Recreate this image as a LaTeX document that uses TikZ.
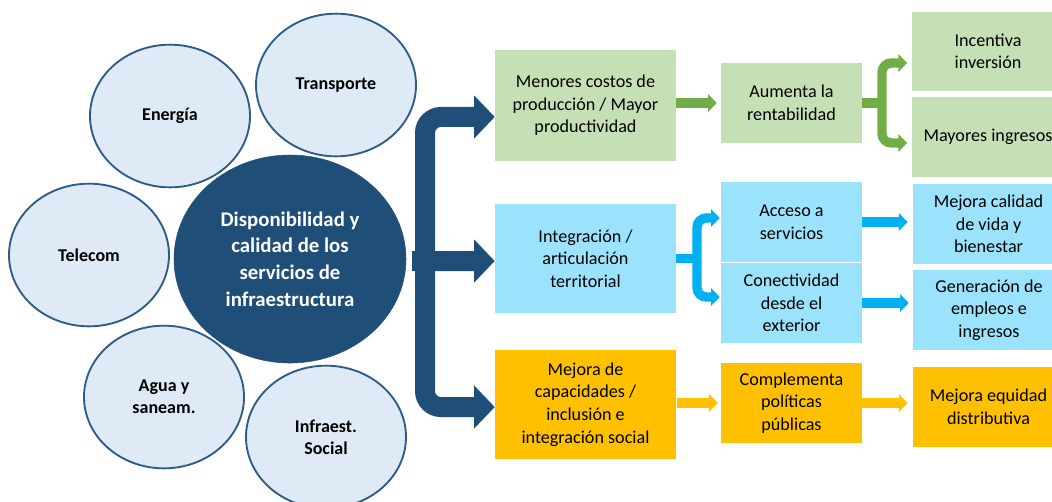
\documentclass[tikz,border=0pt]{standalone}
\usepackage{fontspec}
\setmainfont{Carlito}
\usetikzlibrary{arrows.meta,shapes.geometric,calc}
\definecolor{cfill}{HTML}{DEEBF7}
\definecolor{cborder}{HTML}{2E5B88}
\definecolor{cdark}{HTML}{1F4E79}
\definecolor{boxgreen}{HTML}{C5E0B4}
\definecolor{boxblue}{HTML}{9BE3FC}
\definecolor{boxyellow}{HTML}{FFC000}
\definecolor{agreen}{HTML}{70AD47}
\definecolor{ablue}{HTML}{00B0F0}
\definecolor{ayellow}{HTML}{FFC000}
\begin{document}
\begin{tikzpicture}[x=0.75pt,y=-0.75pt,
  circ/.style={ellipse, draw=cborder, fill=cfill, line width=1.4pt, inner sep=0pt,
    minimum width=120pt, minimum height=107pt, align=center,
    font=\fontsize{13.5}{16.3}\selectfont\bfseries},
  core/.style={ellipse, fill=cdark, draw=cdark, inner sep=0pt, minimum width=174pt, minimum height=156pt,
    align=center, text=white, font=\fontsize{15.6}{20}\selectfont\bfseries},
  bx/.style={rectangle, inner sep=0pt, align=center, font=\fontsize{13.6}{16.9}\selectfont},
  colA/.style={bx, minimum width=135.75pt, minimum height=81.75pt},
  colB/.style={bx, minimum width=105.75pt, minimum height=60pt},
  colC/.style={bx, minimum width=114pt, minimum height=60pt},
  bigarr/.style={draw=cdark, line width=15pt, -{Triangle[length=15.5pt,width=31.5pt]}},
  bigline/.style={draw=cdark, line width=15pt},
  marr/.style={line width=7pt, -{Triangle[length=6.5pt,width=13pt]}},
  mline/.style={line width=7pt},
]
\useasboundingbox (0,0) rectangle (1052,501);
\clip (0,0) rectangle (1052,501);

% satellite circles
\node[circ] (trans) at (336,85) {Transporte};
\node[circ] (ener) at (170,116) {Energía};
\node[circ] (tele) at (89,255) {Telecom};
\node[circ] (agua) at (164,397) {Agua y\\saneam.};
\node[circ] (soc) at (326,437) {Infraest.\\Social};
% central circle
\node[core] (c) at (290,259) {Disponibilidad y\\calidad de los\\servicios de\\infraestructura};

% column 2
\node[colA, fill=boxgreen, minimum height=83.25pt] (g1) at (585.5,105.5) {Menores costos de\\producción / Mayor\\productividad};
\node[colA, fill=boxblue] (b1) at (585.5,258.5) {Integración /\\articulación\\territorial};
\node[colA, fill=boxyellow] (y1) at (585.5,404.5) {Mejora de\\capacidades /\\inclusión e\\integración social};

% column 3
\node[colB, fill=boxgreen] (g2) at (791.5,103) {Aumenta la\\rentabilidad};
\node[colB, fill=boxblue] (b2) at (791.5,222) {Acceso a\\servicios};
\node[colB, fill=boxblue] (b3) at (791.5,303) {Conectividad\\desde el\\exterior};
\node[colB, fill=boxyellow] (y2) at (791.5,403) {Complementa\\políticas\\públicas};

% column 4
\node[colC, fill=boxgreen, minimum height=59.25pt] (g3) at (988,51.5) {Incentiva\\inversión};
\node[colC, fill=boxgreen] (g4) at (988,137) {Mayores ingresos};
\node[colC, fill=boxblue] (b4) at (988.5,224) {Mejora calidad\\de vida y\\bienestar};
\node[colC, fill=boxblue] (b5) at (989,310) {Generación de\\empleos e\\ingresos};
\node[colC, fill=boxyellow] (y3) at (988.5,407) {Mejora equidad\\distributiva};

% big dark bracket
\coordinate (bar) at (425,261);
\draw[bigline] ([xshift=4.5pt]c.east |- bar) -- ([xshift=6pt]bar);
\draw[bigarr] (bar) -- ([yshift=-1.9pt]b1.west);
\draw[bigarr, rounded corners=12pt] (bar) |- ([yshift=-8.6pt]g1.west);
\draw[bigarr, rounded corners=12pt] (bar) |- ([yshift=-1.9pt]y1.west);

% green arrows
\draw[marr, agreen] (g1.east |- g2.west) -- ([xshift=-3pt]g2.west);
\coordinate (gj) at (882,103);
\draw[mline, agreen] (g2.east) -- ([xshift=2.6pt]gj);
\draw[marr, agreen, rounded corners=7pt] (gj) |- ([yshift=-8.6pt,xshift=-3.5pt]g3.west);
\draw[marr, agreen, rounded corners=7pt] (gj) |- ([yshift=-4.5pt,xshift=-3.5pt]g4.west);

% blue arrows
\coordinate (bj) at (697,258.5);
\draw[mline, ablue] (b1.east) -- ([xshift=2.6pt]bj);
\draw[marr, ablue, rounded corners=7pt] (bj) |- ([yshift=3pt,xshift=-0.75pt]b2.west);
\draw[marr, ablue, rounded corners=7pt] (bj) |- ([yshift=4.5pt,xshift=-0.75pt]b3.west);
\draw[marr, ablue] (b2.east) -- ([xshift=-3.5pt]b2.east -| b4.west);
\draw[marr, ablue] (b3.east) -- ([xshift=-3pt]b3.east -| b5.west);

% yellow arrows
\draw[marr, ayellow] ([xshift=0.75pt]y1.east |- y2.west) -- ([xshift=-2.25pt]y2.west);
\draw[marr, ayellow] (y2.east) -- ([xshift=-3.5pt]y2.east -| y3.west);
\end{tikzpicture}
\end{document}
